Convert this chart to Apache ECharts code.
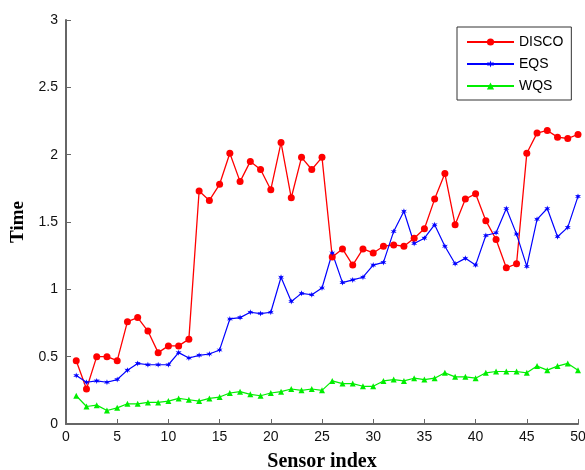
<!DOCTYPE html>
<html>
<head>
<meta charset="utf-8">
<script src="https://cdn.jsdelivr.net/npm/echarts@6/dist/echarts.min.js"></script>
<style>html,body{margin:0;padding:0;background:#fff;}#c{width:585px;height:470px;}</style>
</head>
<body>
<div id="c"></div>
<script>
var sensorIndex = [];
for (var k = 1; k <= 50; k++) sensorIndex.push(k);
var xTicks = [0,5,10,15,20,25,30,35,40,45,50];
var yTicks = [0,0.5,1,1.5,2,2.5,3];
var disco = [0.47,0.26,0.50,0.50,0.47,0.76,0.79,0.69,0.53,0.58,0.58,0.63,1.73,1.66,1.78,2.01,1.80,1.95,1.89,1.74,2.09,1.68,1.98,1.89,1.98,1.24,1.30,1.18,1.30,1.27,1.32,1.33,1.32,1.38,1.45,1.67,1.86,1.48,1.67,1.71,1.51,1.37,1.16,1.19,2.01,2.16,2.18,2.13,2.12,2.15];
var eqs = [0.36,0.31,0.32,0.31,0.33,0.40,0.45,0.44,0.44,0.44,0.53,0.49,0.51,0.52,0.55,0.78,0.79,0.83,0.82,0.83,1.09,0.91,0.97,0.96,1.01,1.27,1.05,1.07,1.09,1.18,1.20,1.43,1.58,1.34,1.38,1.48,1.32,1.19,1.23,1.18,1.40,1.42,1.60,1.41,1.17,1.52,1.60,1.39,1.46,1.69];
var wqs = [0.21,0.13,0.14,0.10,0.12,0.15,0.15,0.16,0.16,0.17,0.19,0.18,0.17,0.19,0.20,0.23,0.24,0.22,0.21,0.23,0.24,0.26,0.25,0.26,0.25,0.32,0.30,0.30,0.28,0.28,0.32,0.33,0.32,0.34,0.33,0.34,0.38,0.35,0.35,0.34,0.38,0.39,0.39,0.39,0.38,0.43,0.40,0.43,0.45,0.40];
var seriesNames = ['DISCO','EQS','WQS'];

function pairs(arr){ return arr.map(function(v,i){ return [sensorIndex[i], v]; }); }

var starPath = 'path://M0,-10L2,-3.5L8.7,-5L4,0L8.7,5L2,3.5L0,10L-2,3.5L-8.7,5L-4,0L-8.7,-5L-2,-3.5Z';
var axisColor = '#666';
var chart = echarts.init(document.getElementById('c'), null, {renderer:'canvas'});
chart.setOption({
  animation: false,
  backgroundColor: '#fff',
  grid: {left: 66, right: 7, top: 20, bottom: 46, containLabel: false, outerBoundsMode: 'none'},
  legend: {
    orient: 'vertical', left: 457, top: 27,
    padding: [8, 8, 7, 9],
    itemWidth: 47, itemHeight: 9, itemGap: 8,
    borderColor: '#333', borderWidth: 1, backgroundColor: '#fff',
    textStyle: {fontFamily: 'Liberation Sans, Arial', fontSize: 14, color: '#000'},
    data: seriesNames
  },
  xAxis: {
    type: 'value', min: xTicks[0], max: xTicks[xTicks.length-1], interval: 5,
    name: 'Sensor index', nameLocation: 'middle', nameGap: 28,
    nameTextStyle: {fontFamily: 'Liberation Serif, Times New Roman', fontWeight: 'bold', fontSize: 20, color: '#000'},
    axisLine: {lineStyle: {color: axisColor, width: 2}},
    axisTick: {inside: true, length: 5, lineStyle: {color: axisColor}},
    axisLabel: {fontFamily: 'Liberation Sans, Arial', fontSize: 14, color: '#111', margin: 6},
    splitLine: {show: false}
  },
  yAxis: {
    type: 'value', min: yTicks[0], max: yTicks[yTicks.length-1], interval: 0.5,
    name: 'Time', nameLocation: 'middle', nameGap: 37, nameRotate: 90,
    nameTextStyle: {fontFamily: 'Liberation Serif, Times New Roman', fontWeight: 'bold', fontSize: 19, color: '#000'},
    axisLine: {show: true, lineStyle: {color: axisColor, width: 2}},
    axisTick: {show: true, inside: true, length: 5, lineStyle: {color: axisColor}},
    axisLabel: {fontFamily: 'Liberation Sans, Arial', fontSize: 14, color: '#111', margin: 8},
    splitLine: {show: false}
  },
  series: [
    {name: seriesNames[0], type: 'line', data: pairs(disco), symbol: 'circle', symbolSize: 7,
     itemStyle: {color: '#ff0000'}, lineStyle: {color: '#ff0000', width: 1.3}},
    {name: seriesNames[1], type: 'line', data: pairs(eqs), symbol: starPath, symbolSize: 6,
     itemStyle: {color: '#0000ff'}, lineStyle: {color: '#0000ff', width: 1.2}},
    {name: seriesNames[2], type: 'line', data: pairs(wqs), symbol: 'triangle', symbolSize: 6,
     itemStyle: {color: '#00ee00'}, lineStyle: {color: '#00ee00', width: 1.2}}
  ]
});
</script>
</body>
</html>
